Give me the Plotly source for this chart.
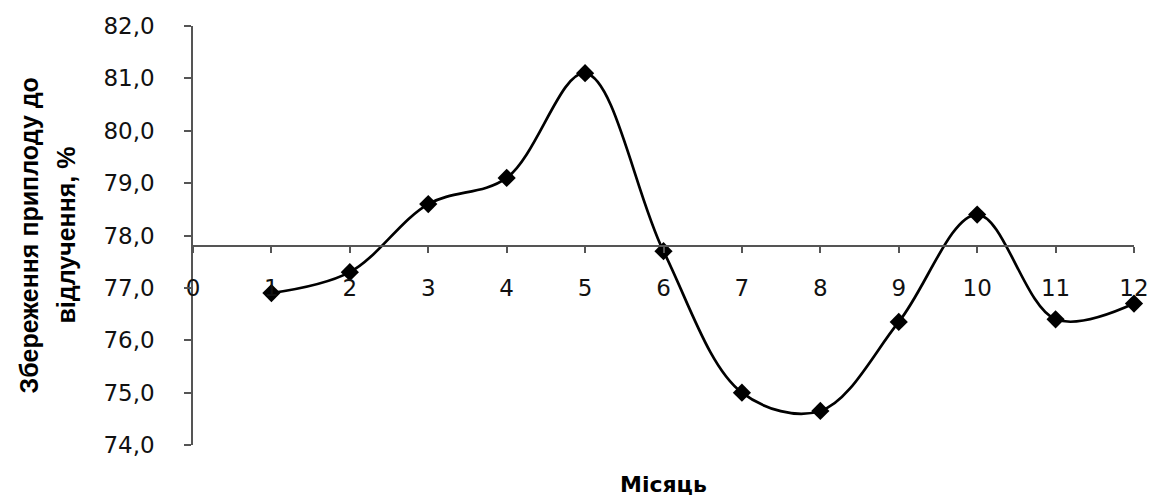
import plotly.graph_objects as go

months = [1, 2, 3, 4, 5, 6, 7, 8, 9, 10, 11, 12]
values = [76.9, 77.3, 78.6, 79.1, 81.1, 77.7, 75.0, 74.65, 76.35, 78.4, 76.4, 76.7]
x_ticks = list(range(0, 13))
y_ticks = [74, 75, 76, 77, 78, 79, 80, 81, 82]
axis_cross = 77.8
y_min, y_max = 74, 82
y_title_lines = ["Збереження приплоду до", "відлучення, %"]
x_title = "Місяць"

fig = go.Figure()
fig.add_trace(go.Scatter(
    x=months, y=values, mode="lines+markers",
    line=dict(color="black", width=2.7, shape="spline", smoothing=1.0),
    marker=dict(symbol="diamond", size=14, color="black"),
    cliponaxis=False, showlegend=False,
))

tick_font = dict(family="DejaVu Sans", size=23, color="#111")

fig.update_layout(
    width=1161, height=500,
    margin=dict(l=193, r=21, t=26, b=55),
    paper_bgcolor="white", plot_bgcolor="white",
    separators=", ",
    font=dict(family="DejaVu Sans", size=22, color="black"),
    xaxis=dict(
        range=[0, 12], tickvals=x_ticks, ticktext=[str(t) for t in x_ticks],
        showgrid=False, zeroline=False, showline=True, linecolor="#555", linewidth=1.5,
        ticks="outside", ticklen=6, tickcolor="#555", tickwidth=1.5,
        anchor="free", position=(axis_cross - y_min) / (y_max - y_min),
        ticklabelstandoff=16,
        tickfont=tick_font,
    ),
    yaxis=dict(
        range=[y_min, y_max], tickvals=y_ticks, tickformat=".1f",
        showgrid=False, zeroline=False, showline=True, linecolor="#555", linewidth=1.5,
        ticks="outside", ticklen=7, tickcolor="#555", tickwidth=1.5,
        ticklabelstandoff=25,
        tickfont=tick_font,
    ),
    annotations=[
        dict(text="<b>" + y_title_lines[0] + "</b>", x=0, xref="paper", xshift=-165,
             y=0.5, yref="paper", textangle=-90, xanchor="center", yanchor="middle",
             showarrow=False, font=dict(family="Liberation Sans", size=25, color="black")),
        dict(text="<b>" + y_title_lines[1] + "</b>", x=0, xref="paper", xshift=-128,
             y=0.5, yref="paper", textangle=-90, xanchor="center", yanchor="middle",
             showarrow=False, font=dict(family="Liberation Sans", size=25, color="black")),
        dict(text="<b>" + x_title + "</b>", x=0.5, xref="paper", y=0, yref="paper",
             yshift=-39, xanchor="center", yanchor="middle", showarrow=False,
             font=dict(family="DejaVu Sans", size=22, color="black")),
    ],
)

fig.write_html("out.html")
